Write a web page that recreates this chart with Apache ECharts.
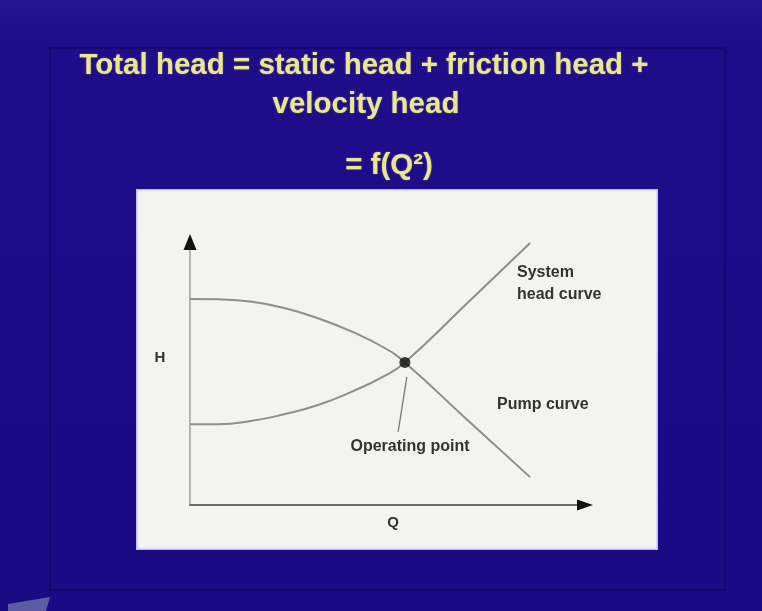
<!DOCTYPE html>
<html>
<head>
<meta charset="utf-8">
<script src="https://cdn.jsdelivr.net/npm/echarts@6/dist/echarts.min.js"></script>
<style>
html,body{margin:0;padding:0;background:#1d0b87;}
#c{width:762px;height:611px;}
</style>
</head>
<body>
<div id="c"></div>
<script>
// ---- data ----
const titleLines = ['Total head = static head + friction head +', 'velocity head', '= f(Q²)'];
const flowQ = [0, 7.1, 15.7, 24.1, 32.4, 41.0, 49.4, 54.4, 70.1, 86.1];
const pumpHead = [78.3, 78.2, 77.3, 74.8, 71.0, 65.9, 59.6, 54.2, 32.5, 10.6];
const systemHead = [30.7, 30.7, 32.0, 34.6, 38.0, 43.1, 49.2, 54.2, 76.6, 99.6];
const operatingPoint = [54.4, 54.2];
const pointerLine = [[54.9, 48.7], [52.7, 27.8]];
const axisMax = 100;
const xAxisName = 'Q';
const yAxisName = 'H';
const systemLabel = ['System', 'head curve'];
const pumpLabel = 'Pump curve';
const pointLabel = 'Operating point';

// ---- chart ----
const chart = echarts.init(document.getElementById('c'), null, {renderer: 'canvas'});
const FONT = '"Liberation Sans", Arial, sans-serif';
const titleFill = '#e9e78f';
const labelFill = '#333333';
const titleFont = 'bold 29.5px ' + FONT;

function titleText(x, y, t) {
  return {type: 'text', x: x, y: y, style: {text: t, font: titleFont, fill: titleFill, align: 'center', verticalAlign: 'middle', textShadowColor: 'rgba(233,231,143,0.45)', textShadowBlur: 2}};
}

function baseGraphics() {
  return [
    {type: 'rect', z: -10, shape: {x: 50, y: 48, width: 675, height: 542},
     style: {fill: null, stroke: 'rgba(10,0,70,0.35)', lineWidth: 2}},
    {type: 'rect', z: -5, shape: {x: 137, y: 190, width: 520, height: 359},
     style: {fill: '#f3f3ef', stroke: 'rgba(215,210,250,0.9)', lineWidth: 2}},
    {type: 'polygon', z: -5, shape: {points: [[8, 604], [50, 597], [46, 611], [8, 611]]},
     style: {fill: '#5d5ca3'}},
    titleText(364, 66, titleLines[0]),
    titleText(366, 105, titleLines[1]),
    titleText(389, 166, titleLines[2]),
    {type: 'text', x: 160, y: 358, style: {text: yAxisName, font: 'bold 15px ' + FONT, fill: labelFill, align: 'center', verticalAlign: 'middle'}},
    {type: 'text', x: 393, y: 523, style: {text: xAxisName, font: 'bold 15px ' + FONT, fill: labelFill, align: 'center', verticalAlign: 'middle'}},
    {type: 'text', x: 517, y: 273, style: {text: systemLabel[0], font: 'bold 16px ' + FONT, fill: labelFill, align: 'left', verticalAlign: 'middle'}},
    {type: 'text', x: 517, y: 295, style: {text: systemLabel[1], font: 'bold 16px ' + FONT, fill: labelFill, align: 'left', verticalAlign: 'middle'}},
    {type: 'text', x: 497, y: 405, style: {text: pumpLabel, font: 'bold 16px ' + FONT, fill: labelFill, align: 'left', verticalAlign: 'middle'}},
    {type: 'text', x: 410, y: 447, style: {text: pointLabel, font: 'bold 16px ' + FONT, fill: labelFill, align: 'center', verticalAlign: 'middle'}}
  ];
}

const option = {
  animation: false,
  backgroundColor: {
    type: 'linear', x: 0, y: 0, x2: 0, y2: 1,
    colorStops: [{offset: 0, color: '#241690'}, {offset: 0.08, color: '#1e0c89'}, {offset: 1, color: '#1c0a84'}]
  },
  grid: {left: 190, top: 242, width: 395, height: 263, containLabel: false},
  xAxis: {
    type: 'value', min: 0, max: axisMax,
    axisLine: {show: true, onZero: false, lineStyle: {color: '#6a6a6a', width: 2}},
    axisTick: {show: false}, axisLabel: {show: false}, splitLine: {show: false}
  },
  yAxis: {
    type: 'value', min: 0, max: axisMax,
    axisLine: {show: true, onZero: false, lineStyle: {color: '#a0a0a0', width: 1.5}},
    axisTick: {show: false}, axisLabel: {show: false}, splitLine: {show: false}
  },
  series: [
    {name: 'Pump curve', type: 'line', smooth: 0.5, showSymbol: false,
     data: flowQ.map((q, i) => [q, pumpHead[i]]),
     lineStyle: {color: '#8e8e8e', width: 2}},
    {name: 'System head curve', type: 'line', smooth: 0.5, showSymbol: false,
     data: flowQ.map((q, i) => [q, systemHead[i]]),
     lineStyle: {color: '#8e8e8e', width: 2}},
    {name: 'pointer', type: 'line', showSymbol: false, data: pointerLine,
     lineStyle: {color: '#7a7a7a', width: 1.3}},
    {name: 'Operating point', type: 'scatter', z: 5, symbolSize: 11,
     data: [operatingPoint], itemStyle: {color: '#0a0a0a'}}
  ],
  graphic: baseGraphics()
};

chart.setOption(option);

// arrowheads at the axis ends, placed via the library's scales
const yEnd = chart.convertToPixel({gridIndex: 0}, [0, axisMax]);
const xEnd = chart.convertToPixel({gridIndex: 0}, [axisMax, 0]);
const g = baseGraphics();
g.push({type: 'polygon', z: 10, shape: {points: [[yEnd[0], yEnd[1] - 8], [yEnd[0] - 6.5, yEnd[1] + 8], [yEnd[0] + 6.5, yEnd[1] + 8]]}, style: {fill: '#111'}});
g.push({type: 'polygon', z: 10, shape: {points: [[xEnd[0] + 8, xEnd[1]], [xEnd[0] - 8, xEnd[1] - 5.5], [xEnd[0] - 8, xEnd[1] + 5.5]]}, style: {fill: '#111'}});
option.graphic = g;
chart.setOption(option, true);
</script>
</body>
</html>
